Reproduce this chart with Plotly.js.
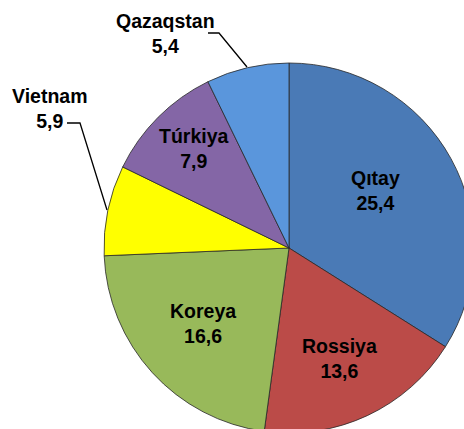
<!DOCTYPE html>
<html>
<head>
<meta charset="utf-8">
<script src="https://cdn.plot.ly/plotly-3.0.1.min.js"></script>
<style>
html,body{margin:0;padding:0;overflow:hidden;background:#fff;width:464px;height:429px;}
#chart{width:500px;height:450px;}
</style>
</head>
<body>
<div id="chart"></div>
<script>
// Data
const countries = ["Qıtay", "Rossiya", "Koreya", "Vietnam", "Túrkiya", "Qazaqstan"];
const shares = [25.4, 13.6, 16.6, 5.9, 7.9, 5.4];
const sliceColors = ["#4a7ab6", "#bb4b48", "#98b95a", "#ffff00", "#8466a6", "#5a96dc"];

// label placement (pixel positions in the 500x450 plot area)
const W = 500, H = 450;
const labelPos = [[375, 191], [339, 358], [203, 323], [50, 108], [194, 148], [165, 33]];

const fmt = v => v.toFixed(1).replace('.', ',');

const annotations = countries.map((c, i) => ({
  text: '<b>' + c + '</b><br><b>' + fmt(shares[i]) + '</b>',
  x: labelPos[i][0] / W, y: 1 - labelPos[i][1] / H,
  xref: 'paper', yref: 'paper', xanchor: 'center', yanchor: 'middle',
  showarrow: false, align: 'center',
  font: {family: 'Liberation Sans, Arial, sans-serif', size: 19.5, color: '#000'}
}));

function px(x, y) { return (x / W).toFixed(4) + ',' + (1 - y / H).toFixed(4); }
const shapes = [
  {type: 'path', xref: 'paper', yref: 'paper',
   path: 'M' + px(67,123) + ' L' + px(80,123) + ' L' + px(107,210),
   line: {color: '#000', width: 1.3}},
  {type: 'path', xref: 'paper', yref: 'paper',
   path: 'M' + px(208,33) + ' L' + px(219,33) + ' L' + px(247,67),
   line: {color: '#000', width: 1.3}}
];

const cx = 289, cy = 248, r = 185;
const trace = {
  type: 'pie',
  labels: countries,
  values: shares,
  sort: false,
  direction: 'clockwise',
  rotation: 0,
  textinfo: 'none',
  hoverinfo: 'none',
  marker: {colors: sliceColors, line: {color: 'rgba(40,40,40,0.8)', width: 1}},
  domain: {x: [(cx - r) / W, (cx + r) / W], y: [1 - (cy + r) / H, 1 - (cy - r) / H]},
  showlegend: false
};

Plotly.newPlot('chart', [trace], {
  width: W, height: H,
  margin: {l: 0, r: 0, t: 0, b: 0},
  paper_bgcolor: '#fff',
  showlegend: false,
  annotations: annotations,
  shapes: shapes
}, {staticPlot: true});
</script>
</body>
</html>
